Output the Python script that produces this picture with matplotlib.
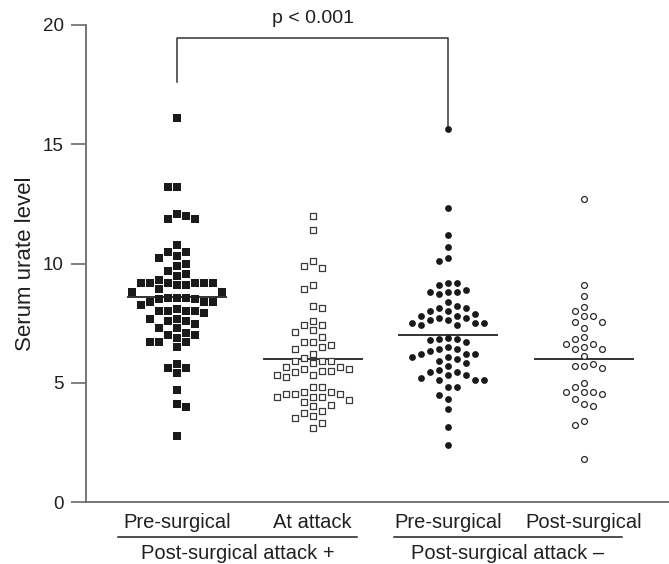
import matplotlib

matplotlib.use("Agg")

import matplotlib.pyplot as plt
import numpy as np

# serum urate values, one list per group
pre_attack = [16.1, 13.22, 13.22, 12.0, 11.87, 11.87, 12.08, 10.78, 10.48, 10.48, 10.3, 10.22,
              10.0, 9.91, 9.70, 9.57, 9.49, 9.32, 9.2, 9.2, 9.2, 9.2, 9.2, 9.2, 9.11, 9.11,
              8.92, 8.82, 8.82, 8.54, 8.5, 8.5, 8.54, 8.54, 8.37, 8.37, 8.37, 8.26, 8.09,
              8.01, 8.01, 8.01, 8.01, 7.91, 7.69, 7.69, 7.59, 7.59, 7.46, 7.31, 7.31, 7.11,
              7.02, 7.02, 6.9, 6.72, 6.72, 6.72, 6.51, 5.81, 5.63, 5.63, 5.42, 4.71, 4.11,
              4.0, 2.78]
at_attack = [12.0, 11.39, 10.12, 9.9, 9.82, 9.09, 8.93, 8.22, 8.14, 7.59, 7.43, 7.42, 7.2,
             7.12, 6.94, 6.73, 6.6, 6.42, 6.52, 6.73, 6.22, 6.03, 5.93, 5.93, 5.82, 5.93,
             5.68, 5.58, 5.68, 5.58, 5.51, 5.44, 5.51, 5.33, 5.23, 5.34, 4.82, 4.82, 4.63,
             4.52, 4.52, 4.42, 4.42, 4.42, 4.52, 4.28, 4.63, 4.19, 4.03, 4.07, 3.84, 3.63,
             3.54, 3.73, 3.31, 3.12]
pre_no_attack = [15.65, 12.31, 11.21, 10.7, 10.22, 10.12, 9.2, 9.11, 9.2, 8.81, 8.81, 8.71,
                 8.81, 8.9, 8.4, 8.22, 8.14, 8.02, 7.8, 7.9, 8.02, 8.14, 7.8, 7.7, 7.62, 7.52,
                 7.62, 7.7, 7.52, 7.42, 7.42, 7.52, 6.83, 6.83, 6.88, 6.71, 6.81, 6.49, 6.42,
                 6.32, 6.22, 6.42, 6.2, 6.2, 6.0, 6.1, 6.1, 5.93, 5.82, 5.72, 5.54, 5.44,
                 5.33, 5.22, 5.33, 5.44, 5.12, 5.12, 5.12, 4.83, 4.83, 4.49, 4.33, 3.92,
                 3.14, 2.41]
post_no_attack = [12.7, 9.11, 8.63, 8.19, 8.01, 7.82, 7.82, 7.54, 7.29, 7.54, 6.91, 6.84,
                  6.64, 6.42, 6.49, 6.64, 6.42, 6.13, 5.78, 5.72, 5.61, 5.71, 5.01, 4.81,
                  4.6, 4.6, 4.33, 4.52, 4.6, 4.1, 4.03, 3.42, 3.22, 1.8]

group_means = [8.6, 6.0, 7.0, 6.0]
group_labels = ["Pre-surgical", "At attack", "Pre-surgical", "Post-surgical"]
outcome_labels = ["Post-surgical attack +", "Post-surgical attack \u2013"]
p_label = "p < 0.001"

plt.rcParams["font.family"] = ["Liberation Sans", "DejaVu Sans"]
INK = "#231f20"
AXIS = "#6b6b6b"


def swarm_offsets(values, gap, step):
    # greedy dot-plot layout: each point goes to the free column nearest the centre
    values = np.asarray(values, dtype=float)
    placed = {}
    offsets = np.zeros(len(values))
    flip = False
    for i in np.argsort(-values, kind="stable"):
        v = values[i]
        k = 0
        while True:
            cands = [0] if k == 0 else ([k, -k] if flip else [-k, k])
            hit = None
            for c in cands:
                if all(abs(v - u) >= gap for u in placed.get(c, [])):
                    hit = c
                    break
            if hit is not None:
                placed.setdefault(hit, []).append(v)
                offsets[i] = hit * step
                if hit != 0:
                    flip = not flip
                break
            k += 1
    return offsets


fig = plt.figure(figsize=(6.69, 5.64), dpi=100)
ax = fig.add_axes([0.1286, 0.1094, 0.8714, 0.8468])

styles = [
    dict(marker="s", s=26, c="#1a1a1a", linewidths=0),
    dict(marker="s", s=22, facecolors="white", edgecolors="#3a3a3a", linewidths=0.9),
    dict(marker="o", s=24, c="#1a1a1a", linewidths=0),
    dict(marker="o", s=18, facecolors="white", edgecolors="#2a2a2a", linewidths=0.9),
]
groups = [pre_attack, at_attack, pre_no_attack, post_no_attack]
gaps = [0.38, 0.38, 0.36, 0.36]
step = 0.0663

for i, (vals, st) in enumerate(zip(groups, styles)):
    x = i + 1 + swarm_offsets(vals, gaps[i], step)
    ax.scatter(x, vals, zorder=3, **st)
    ax.plot([i + 1 - 0.36, i + 1 + 0.36], [group_means[i]] * 2, color="#333333", lw=1.4, zorder=2)

# significance bracket
ax.plot([1, 1, 3, 3], [17.6, 19.45, 19.45, 15.6], color="#333333", lw=1.1, clip_on=False)
ax.text(2, 20.25, p_label, ha="center", va="center", fontsize=14, color=INK, clip_on=False)

ax.set_xlim(0.329, 4.627)
ax.set_ylim(0, 20)
ax.set_yticks([0, 5, 10, 15, 20])
ax.set_xticks([])
ax.set_ylabel("Serum urate level", fontsize=16, color=INK, labelpad=5)
ax.tick_params(axis="y", length=11, width=1.2, color=AXIS, labelsize=13.5, labelcolor=INK, pad=5)
for side in ["top", "right"]:
    ax.spines[side].set_visible(False)
for side in ["left", "bottom"]:
    ax.spines[side].set_color(AXIS)
    ax.spines[side].set_linewidth(1.3)

# two-level category labels under the axis
tr = ax.get_xaxis_transform()
for i, lab in enumerate(group_labels):
    ax.text(i + 1, -0.043, lab, transform=tr, ha="center", va="center", fontsize=14.5, color=INK)
for (x0, x1), lab in zip([(0.565, 2.33), (2.6, 4.28)], outcome_labels):
    ax.plot([x0, x1], [-0.073, -0.073], transform=tr, color=INK, lw=1.1, clip_on=False)
    ax.text((x0 + x1) / 2, -0.107, lab, transform=tr, ha="center", va="center",
            fontsize=14.5, color=INK)

fig.savefig("out.png", dpi=100)
